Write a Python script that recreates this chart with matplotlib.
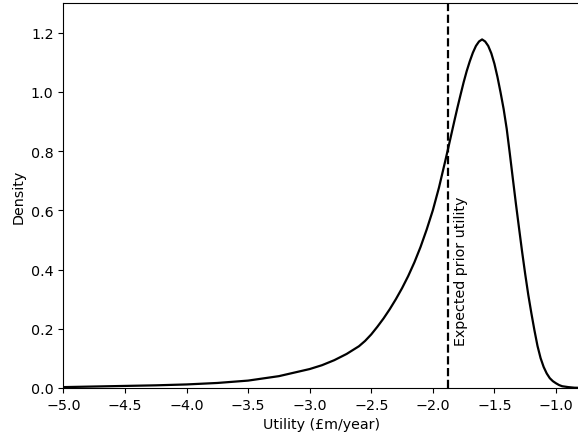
import matplotlib
matplotlib.use("Agg")
import matplotlib.pyplot as plt

plt.rcParams["font.size"] = 10.3

utility = [-5.0, -4.75, -4.5, -4.25, -4.0, -3.75, -3.5, -3.25, -3.0, -2.9, -2.8, -2.7,
           -2.6, -2.55, -2.5, -2.45, -2.4, -2.35, -2.3, -2.25, -2.2, -2.15, -2.1, -2.05,
           -2.0, -1.95, -1.9, -1.875, -1.85, -1.825, -1.8, -1.775, -1.75, -1.725,
           -1.7, -1.675, -1.65, -1.625, -1.6, -1.575, -1.55, -1.525, -1.5, -1.475,
           -1.45, -1.425, -1.4, -1.375, -1.35, -1.325, -1.3, -1.275, -1.25, -1.225,
           -1.2, -1.175, -1.15, -1.125, -1.1, -1.075, -1.05, -1.025, -1.0, -0.975,
           -0.95, -0.9, -0.85, -0.8]
density = [0.003, 0.005, 0.007, 0.009, 0.012, 0.017, 0.025, 0.040, 0.064, 0.077, 0.094, 0.115,
           0.141, 0.159, 0.181, 0.207, 0.235, 0.266, 0.300, 0.337, 0.378, 0.424, 0.476, 0.535,
           0.600, 0.677, 0.765, 0.810, 0.856, 0.902, 0.947, 0.990, 1.032, 1.070,
           1.103, 1.132, 1.155, 1.170, 1.177, 1.170, 1.155, 1.130, 1.095, 1.050,
           0.998, 0.942, 0.875, 0.792, 0.706, 0.621, 0.540, 0.460, 0.385, 0.315,
           0.253, 0.195, 0.142, 0.101, 0.071, 0.049, 0.033, 0.023, 0.016, 0.010,
           0.006, 0.003, 0.001, 0.0005]
expected_prior_utility = -1.88
vline_label = "Expected prior utility"

fig = plt.figure(figsize=(5.78, 4.39), dpi=100)
ax = fig.add_axes([0.1097, 0.1139, 1.0045 - 0.1097, 0.9909 - 0.1139])
ax.plot(utility, density, color="black", lw=1.6)
ax.axvline(expected_prior_utility, color="black", ls="--", lw=1.6)
ax.text(expected_prior_utility + 0.055, 0.145, vline_label, rotation=90,
        ha="left", va="bottom")
ax.set_xlim(-5.0, -0.8)
ax.set_ylim(0, 1.3)
ax.set_xticks([-5.0, -4.5, -4.0, -3.5, -3.0, -2.5, -2.0, -1.5, -1.0])
ax.set_yticks([0.0, 0.2, 0.4, 0.6, 0.8, 1.0, 1.2])
ax.set_xlabel("Utility (£m/year)")
ax.set_ylabel("Density")
fig.savefig("out.png", dpi=100)
